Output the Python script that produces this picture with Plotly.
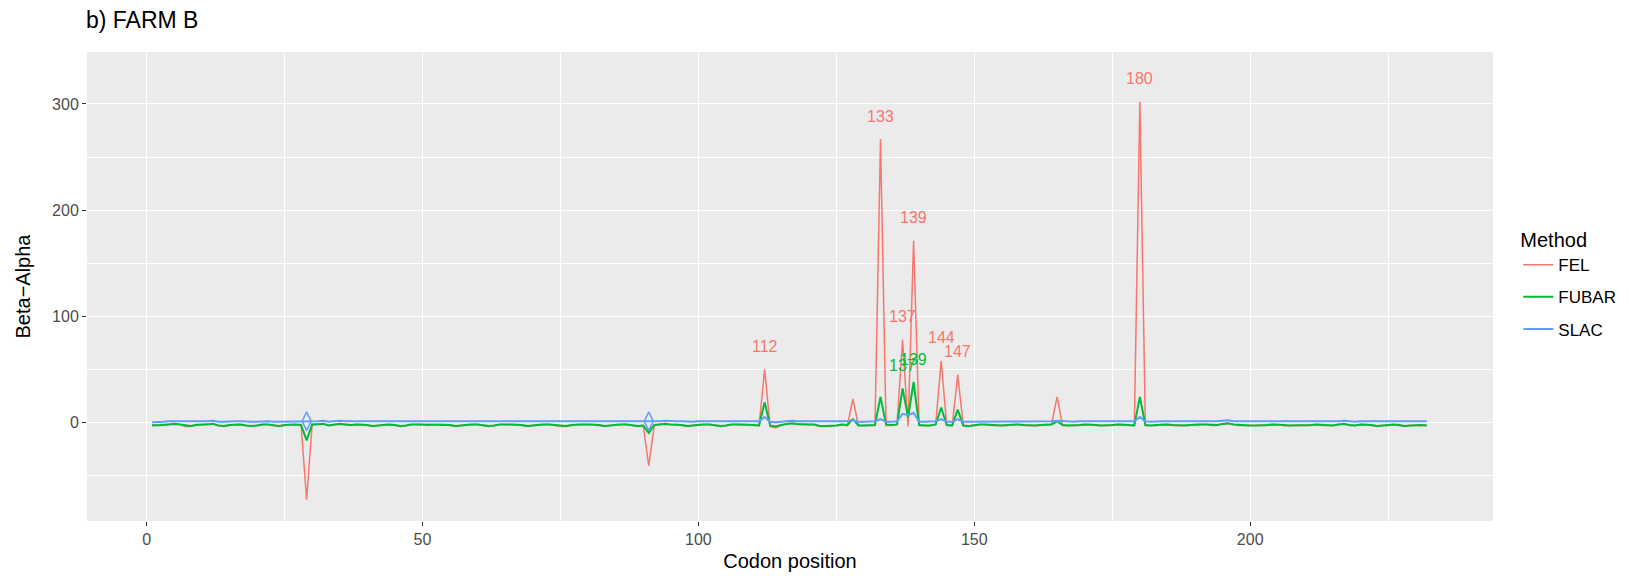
import plotly.graph_objects as go

# ---- data -------------------------------------------------------------
fel = [
    -2, -3, -2, -2, -1, -2, -4, -4, -2, -2, -2, -1, -3, -4, -3, -2, -2, -3, -4, -3,
    -2, -2, -3, -4, -3, -2, -2, -3, -73, -2, -2, -1, -3, -2, -1, -2, -3, -2, -2, -3,
    -4, -3, -2, -2, -3, -4, -3, -2, -2, -2, -3, -2, -2, -2, -3, -4, -3, -2, -2, -2,
    -3, -4, -3, -2, -2, -2, -2, -3, -4, -3, -2, -2, -2, -3, -4, -4, -3, -2, -2, -2,
    -2, -3, -4, -3, -2, -2, -2, -3, -4, -3, -41, -3, -2, -1, -2, -2, -3, -4, -3, -2,
    -2, -2, -3, -4, -3, -2, -2, -2, -2, -3, -3, 50, -4, -5, -3, -1, -1, -2, -2, -2,
    -2, -4, -4, -4, -3, -2, -3, 22, -3, -3, -3, -3, 267, -3, -3, -2, 78, -4, 171, -3,
    -3, -3, -2, 58, -3, -3, 45, -3, -4, -3, -2, -2, -3, -3, -3, -3, -2, -2, -3, -3,
    -3, -3, -2, -2, 24, -3, -3, -3, -3, -2, -2, -3, -3, -3, -3, -2, -2, -3, -3, 302,
    -3, -3, -3, -2, -2, -3, -3, -3, -3, -2, -2, -2, -3, -3, -1, -1, -2, -3, -3, -3,
    -3, -3, -3, -2, -2, -3, -3, -3, -3, -3, -3, -2, -3, -3, -3, -2, -1, -3, -3, -2,
    -2, -3, -4, -3, -3, -2, -3, -4, -3, -3, -3, -3,
]
fubar = [
    -3, -3, -2.5, -2, -1.5, -2, -3, -3.5, -2.5, -2, -2, -1.5, -3, -3.5, -2.5, -2, -2, -3, -3.5, -3,
    -2, -2, -3, -3.5, -2.5, -2, -2, -2.5, -17, -2, -2, -1.5, -3, -2, -1.5, -2, -2.5, -2, -2, -2.5,
    -3.5, -3, -2, -2, -2.5, -3.5, -3, -2, -2, -2, -2.5, -2, -2, -2, -2.5, -3.5, -3, -2, -2, -2,
    -2.5, -3.5, -3, -2, -2, -2, -2, -2.5, -3.5, -3, -2, -2, -2, -2.5, -3.5, -3.5, -2.5, -2, -2, -2,
    -2, -2.5, -3.5, -3, -2, -2, -2, -2.5, -3.5, -3, -10, -2.5, -2, -1.5, -2, -2, -2.5, -3.5, -3, -2,
    -2, -2, -2.5, -3.5, -3, -2, -2, -2, -2, -2.5, -3, 19, -3, -4, -2.5, -1.5, -1, -1.5, -2, -2,
    -2, -3.5, -3.5, -3.5, -3, -2, -2.5, 3, -3, -3, -3, -2.5, 24, -2, -2.5, -2, 32, 5, 38, -2.5,
    -3, -3, -2, 14, -2.5, -3, 12, -3, -3.5, -2.5, -2, -2, -2.5, -3, -3, -2.5, -2, -2, -2.5, -3,
    -3, -2.5, -2, -2, 1, -2.5, -3, -3, -2.5, -2, -2, -2.5, -3, -3, -2.5, -2, -2, -2.5, -3, 24,
    -2.5, -3, -2.5, -2, -2, -2.5, -3, -3, -2.5, -2, -2, -2, -2.5, -2.5, -1.5, -1, -2, -2.5, -3, -3,
    -3, -3, -2.5, -2, -2, -2.5, -3, -3, -3, -3, -2.5, -2, -2.5, -3, -3, -2, -1.5, -2.5, -3, -2,
    -2, -2.5, -3.5, -3, -2.5, -2, -2.5, -3.5, -3, -2.5, -2.5, -3,
]
slac = [
    0, 0, 0.5, 1, 1, 0.5, 0.5, 0.5, 1, 1, 1, 1.5, 0.5, 0.5, 1, 1, 1, 0.5, 0.5, 0.5,
    1, 1, 0.5, 0.5, 1, 1, 1, 1, 1, 1, 1, 1.5, 0.5, 1, 1.5, 1, 1, 1, 1, 1,
    0.5, 0.5, 1, 1, 1, 0.5, 0.5, 1, 1, 1, 1, 1, 1, 1, 1, 0.5, 0.5, 1, 1, 1,
    1, 0.5, 0.5, 1, 1, 1, 1, 1, 0.5, 0.5, 1, 1, 1, 1, 0.5, 0.5, 1, 1, 1, 1,
    1, 1, 0.5, 0.5, 1, 1, 1, 1, 0.5, 1, 1, 1, 1, 1.5, 1, 1, 1, 0.5, 0.5, 1,
    1, 1, 1, 0.5, 0.5, 1, 1, 1, 1, 1, 1, 5, 0.5, 0, 0.5, 1, 1.5, 1, 1, 1,
    1, 0.5, 0.5, 0.5, 0.5, 1, 1, 2, 0.5, 0.5, 0.5, 1, 3, 0.5, 0.5, 1, 8, 7, 9, 0.5,
    0.5, 0.5, 1, 3, 0.5, 0.5, 3, 0.5, 0.5, 1, 1, 1, 1, 0.5, 0.5, 1, 1, 1, 1, 0.5,
    0.5, 1, 1, 1, 1.5, 1, 0.5, 0.5, 1, 1, 1, 1, 0.5, 0.5, 1, 1, 1, 1, 1, 5,
    1, 0.5, 1, 1, 1, 1, 0.5, 0.5, 1, 1, 1, 1, 1, 1, 1.5, 2, 1, 1, 0.5, 0.5,
    0.5, 0.5, 1, 1, 1, 1, 0.5, 0.5, 0.5, 0.5, 1, 1, 1, 0.5, 0.5, 1, 1.5, 1, 0.5, 1,
    1, 1, 0.5, 0.5, 1, 1, 1, 0.5, 0.5, 1, 1, 1,
]
codon = list(range(1, len(fel) + 1))

fel_label_sites = [112, 133, 137, 139, 144, 147, 180]
fubar_label_sites = [137, 139]
slac_marker_sites = [29, 91]

methods = ["FEL", "FUBAR", "SLAC"]
colors = {"FEL": "#F8766D", "FUBAR": "#00BA38", "SLAC": "#619CFF"}
widths = {"FEL": 1.5, "FUBAR": 2, "SLAC": 2}
series = {"FEL": fel, "FUBAR": fubar, "SLAC": slac}

x_ticks = [0, 50, 100, 150, 200]
y_ticks = [0, 100, 200, 300]

FONT = "Liberation Sans, Arial, sans-serif"

# ---- figure -----------------------------------------------------------
fig = go.Figure()
for m in methods:
    fig.add_trace(go.Scatter(
        x=codon, y=series[m], mode="lines", name=m,
        line=dict(color=colors[m], width=widths[m]),
        legendgroup=m,
    ))

fig.add_trace(go.Scatter(
    x=slac_marker_sites, y=[slac[s - 1] for s in slac_marker_sites],
    mode="markers", showlegend=False, hoverinfo="skip",
    marker=dict(symbol="diamond-tall-open", size=13,
                color=colors["SLAC"], line=dict(width=1.5, color=colors["SLAC"])),
))

annotations = []
for s in fel_label_sites:
    annotations.append(dict(x=s, y=fel[s - 1], text=str(s), showarrow=False,
                            yshift=23, font=dict(color=colors["FEL"], size=16, family=FONT)))
for s in fubar_label_sites:
    annotations.append(dict(x=s, y=fubar[s - 1], text=str(s), showarrow=False,
                            yshift=23, font=dict(color=colors["FUBAR"], size=16, family=FONT)))

fig.update_layout(
    width=1629, height=576,
    margin=dict(l=87, r=136, t=52, b=55, autoexpand=False),
    paper_bgcolor="white", plot_bgcolor="#EBEBEB",
    font=dict(family=FONT, color="black"),
    title=dict(text="b) FARM B", x=86 / 1629, xanchor="left", xref="container",
               y=1 - 20 / 576, yanchor="middle", yref="container",
               font=dict(size=23, color="black", family=FONT)),
    legend=dict(title=dict(text="Method", font=dict(size=20, color="black")),
                font=dict(size=17, color="black"),
                x=1.018, xanchor="left", y=0.505, yanchor="middle",
                bgcolor="rgba(0,0,0,0)", tracegroupgap=7),
    annotations=annotations,
    showlegend=True,
)

fig.update_xaxes(
    range=[-10.8, 244], tickvals=x_ticks, ticktext=[str(v) for v in x_ticks],
    showgrid=True, gridcolor="white", gridwidth=1.4, zeroline=False,
    ticks="outside", ticklen=4, tickcolor="#333333", tickwidth=1,
    tickfont=dict(size=16, color="#4D4D4D"),
    minor=dict(dtick=25, tick0=0, showgrid=True, gridcolor="white", gridwidth=0.7, ticks=""),
    title=dict(text="Codon position", font=dict(size=20, color="black"), standoff=6),
    showline=False, automargin=False,
)
fig.update_yaxes(
    range=[-93, 349], tickvals=y_ticks, ticktext=[str(v) for v in y_ticks],
    showgrid=True, gridcolor="white", gridwidth=1.4, zeroline=False,
    ticks="outside", ticklen=4, tickcolor="#333333", tickwidth=1,
    tickfont=dict(size=16, color="#4D4D4D"),
    minor=dict(dtick=50, tick0=0, showgrid=True, gridcolor="white", gridwidth=0.7, ticks=""),
    title=dict(text="Beta\u2212Alpha", font=dict(size=20, color="black"), standoff=16),
    showline=False, automargin=False,
)

fig.write_html("out.html", config={"displayModeBar": False},
               post_script="document.body.style.margin='0';")
